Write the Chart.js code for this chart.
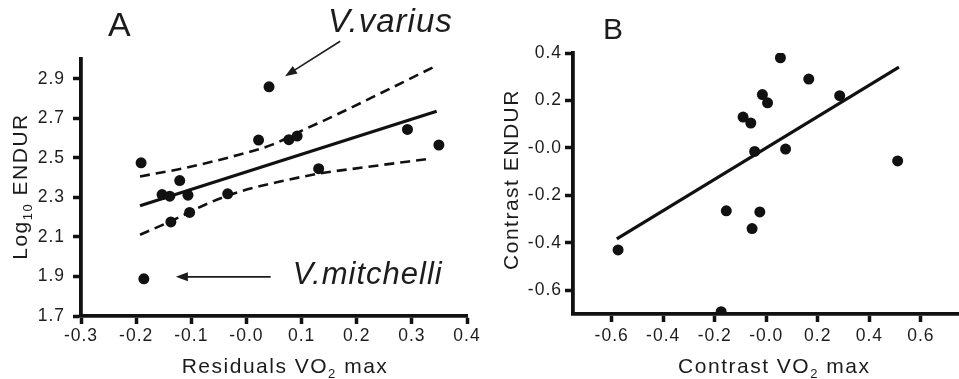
<!DOCTYPE html>
<html>
<head>
<meta charset="utf-8">
<script src="https://cdn.jsdelivr.net/npm/chart.js@4.4.0/dist/chart.umd.min.js"></script>
<style>
  html, body { margin: 0; padding: 0; background: #fff; overflow: hidden; }
  #wrap { position: relative; width: 959px; height: 379px; overflow: hidden; }
  #chartA { position: absolute; left: 0; top: 0; }
  #chartB { position: absolute; left: 480px; top: 0; }
</style>
</head>
<body>
<div id="wrap">
  <canvas id="chartA" width="480" height="379"></canvas>
  <canvas id="chartB" width="485" height="379"></canvas>
</div>
<script>
// ---- panel A : residuals ----
const aResidVO2 = [-0.191, -0.121, -0.153, -0.139, -0.106, -0.137, -0.103, -0.034, 0.022, 0.041, 0.077, 0.092, 0.131, 0.292, 0.349, -0.186];
const aLogEndur = [2.475, 2.385, 2.314, 2.306, 2.311, 2.176, 2.224, 2.318, 2.590, 2.859, 2.592, 2.610, 2.445, 2.644, 2.565, 1.888];
const aFitX = [-0.193, 0.345];
const aFitY = [2.258, 2.736];
const aUpperX = [-0.193, -0.108, -0.012, 0.048, 0.103, 0.151, 0.242, 0.345];
const aUpperY = [2.406, 2.451, 2.517, 2.568, 2.641, 2.702, 2.825, 2.967];
const aLowerX = [-0.193, -0.139, -0.066, -0.012, 0.061, 0.133, 0.211, 0.336];
const aLowerY = [2.111, 2.177, 2.274, 2.329, 2.380, 2.421, 2.451, 2.497];
const aXTicks = [-0.3, -0.2, -0.1, 0, 0.1, 0.2, 0.3, 0.4];
const aXLabels = ['-0.3', '-0.2', '-0.1', '-0.0', '0.1', '0.2', '0.3', '0.4'];
const aYTicks = [1.7, 1.9, 2.1, 2.3, 2.5, 2.7, 2.9];
const aYLabels = ['1.7', '1.9', '2.1', '2.3', '2.5', '2.7', '2.9'];

// ---- panel B : contrasts ----
const bContrastVO2 = [0.055, 0.165, 0.285, -0.015, 0.005, -0.09, -0.06, -0.045, 0.075, 0.51, -0.155, -0.025, -0.055, -0.575, -0.175];
const bContrastEndur = [0.38, 0.29, 0.22, 0.225, 0.19, 0.13, 0.105, -0.015, -0.005, -0.055, -0.265, -0.27, -0.34, -0.43, -0.69];
const bFitX = [-0.58, 0.515];
const bFitY = [-0.383, 0.340];
const bXTicks = [-0.6, -0.4, -0.2, 0, 0.2, 0.4, 0.6];
const bXLabels = ['-0.6', '-0.4', '-0.2', '-0.0', '0.2', '0.4', '0.6'];
const bYTicks = [-0.6, -0.4, -0.2, 0, 0.2, 0.4];
const bYLabels = ['-0.6', '-0.4', '-0.2', '-0.0', '0.2', '0.4'];

const ink = '#1c1c1c';
const FONT = '"Liberation Sans", Arial, sans-serif';

const toPts = (xs, ys) => xs.map((x, i) => ({ x: x, y: ys[i] }));

// text with subscripts: parts = [[text, isSub], ...]
function richWidth(ctx, parts, size) {
    let w = 0;
    parts.forEach(p => {
        ctx.font = (p[1] ? Math.round(size * 0.62) : size) + 'px ' + FONT;
        w += ctx.measureText(p[0]).width;
    });
    return w;
}
function drawRich(ctx, parts, size, x, y) {
    let cx = x;
    parts.forEach(p => {
        ctx.font = (p[1] ? Math.round(size * 0.62) : size) + 'px ' + FONT;
        ctx.fillText(p[0], cx, p[1] ? y + size * 0.24 : y);
        cx += ctx.measureText(p[0]).width;
    });
}

const decor = {
    id: 'decor',
    beforeLayout(chart) { chart.ctx.letterSpacing = '1px'; },
    beforeDraw(chart) { chart.ctx.letterSpacing = '1px'; },
    afterDraw(chart, args, opts) {
        const { ctx, chartArea: ca, scales: { x, y } } = chart;
        ctx.save();
        ctx.fillStyle = ink;
        ctx.strokeStyle = ink;
        ctx.textAlign = 'left';
        ctx.textBaseline = 'alphabetic';

        // panel letter
        ctx.letterSpacing = '0px';
        ctx.font = opts.panel.size + 'px ' + FONT;
        ctx.fillText(opts.panel.text, opts.panel.x, opts.panel.y);

        // axis titles
        ctx.letterSpacing = '1.5px';
        const xt = opts.xTitle;
        let w = richWidth(ctx, xt.parts, xt.size);
        drawRich(ctx, xt.parts, xt.size, (ca.left + ca.right) / 2 + xt.dx - w / 2, xt.y);

        const yt = opts.yTitle;
        w = richWidth(ctx, yt.parts, yt.size);
        ctx.save();
        ctx.translate(yt.x, (ca.top + ca.bottom) / 2 + yt.dy);
        ctx.rotate(-Math.PI / 2);
        drawRich(ctx, yt.parts, yt.size, -w / 2, 0);
        ctx.restore();

        // species notes with arrows
        (opts.notes || []).forEach(n => {
            const tx = x.getPixelForValue(n.to[0]), ty = y.getPixelForValue(n.to[1]);
            const fx = x.getPixelForValue(n.from[0]), fy = y.getPixelForValue(n.from[1]);
            const ang = Math.atan2(ty - fy, tx - fx);
            ctx.lineWidth = 1.6;
            ctx.beginPath();
            ctx.moveTo(fx, fy);
            ctx.lineTo(tx - 8 * Math.cos(ang), ty - 8 * Math.sin(ang));
            ctx.stroke();
            ctx.beginPath();
            ctx.moveTo(tx, ty);
            ctx.lineTo(tx - 12 * Math.cos(ang) + 4.5 * Math.sin(ang), ty - 12 * Math.sin(ang) - 4.5 * Math.cos(ang));
            ctx.lineTo(tx - 12 * Math.cos(ang) - 4.5 * Math.sin(ang), ty - 12 * Math.sin(ang) + 4.5 * Math.cos(ang));
            ctx.closePath();
            ctx.fill();

            ctx.letterSpacing = '1px';
            ctx.font = 'italic ' + n.size + 'px ' + FONT;
            ctx.fillText(n.text, x.getPixelForValue(n.at[0]), y.getPixelForValue(n.at[1]));
        });
        ctx.restore();
    }
};

function axis(min, max, tickVals, labels, isY, box, pad) {
    return {
        type: 'linear',
        min: min,
        max: max,
        afterBuildTicks: s => { s.ticks = tickVals.map(v => ({ value: v })); },
        afterFit: s => {
            if (isY) { s.width = box; s.paddingTop = 0; s.paddingBottom = 0; }
            else { s.height = box; s.paddingLeft = 0; s.paddingRight = 0; }
        },
        ticks: {
            color: ink,
            font: { family: FONT, size: 17.5 },
            padding: pad,
            maxRotation: 0,
            autoSkip: false,
            callback: (v, i) => labels[i]
        },
        grid: {
            display: true,
            drawOnChartArea: false,
            drawTicks: true,
            tickLength: 8,
            tickWidth: 3.5,
            color: '#111'
        },
        border: { display: true, width: 3.8, color: '#111' }
    };
}

function dots(xs, ys) {
    return {
        type: 'scatter',
        data: toPts(xs, ys),
        pointRadius: 5.5,
        pointHoverRadius: 5.5,
        pointBackgroundColor: '#111',
        pointBorderWidth: 0,
        showLine: false
    };
}
function line(xs, ys, dashed) {
    return {
        type: 'line',
        data: toPts(xs, ys),
        borderColor: '#111',
        borderWidth: dashed ? 2.6 : 3.2,
        borderDash: dashed ? [10, 6] : [],
        pointRadius: 0,
        fill: false,
        tension: dashed ? 0.35 : 0,
        cubicInterpolationMode: dashed ? 'monotone' : 'default'
    };
}

const baseOpts = {
    responsive: false,
    animation: false,
    events: []
};

new Chart(document.getElementById('chartA'), {
    type: 'scatter',
    data: {
        datasets: [
            dots(aResidVO2, aLogEndur),
            line(aFitX, aFitY, false),
            line(aUpperX, aUpperY, true),
            line(aLowerX, aLowerY, true)
        ]
    },
    options: Object.assign({}, baseOpts, {
        layout: { padding: { top: 59, right: 13, left: 0, bottom: 0 } },
        scales: {
            x: axis(-0.3, 0.4, aXTicks, aXLabels, false, 63, 2),
            y: axis(1.7, 3.0, aYTicks, aYLabels, true, 81, 8)
        },
        plugins: {
            legend: { display: false },
            tooltip: { enabled: false },
            decor: {
                panel: { text: 'A', size: 34, x: 108, y: 36 },
                xTitle: { parts: [['Residuals VO', false], ['2', true], [' max', false]], size: 21, dx: 11, y: 373 },
                yTitle: { parts: [['Log', false], ['10', true], [' ENDUR', false]], size: 21, x: 27, dy: -1 },
                notes: [
                    { text: 'V.varius', size: 33, at: [0.148, 3.137], from: [0.17, 3.09], to: [0.07, 2.913] },
                    { text: 'V.mitchelli', size: 31, at: [0.084, 1.862], from: [0.044, 1.898], to: [-0.128, 1.898] }
                ]
            }
        }
    }),
    plugins: [decor]
});

new Chart(document.getElementById('chartB'), {
    type: 'scatter',
    data: {
        datasets: [
            dots(bContrastVO2, bContrastEndur),
            line(bFitX, bFitY, false)
        ]
    },
    options: Object.assign({}, baseOpts, {
        layout: { padding: { top: 53, right: 0, left: 0, bottom: 0 } },
        scales: {
            x: axis(-0.75, 0.75, bXTicks, bXLabels, false, 65, 4),
            y: axis(-0.7, 0.4, bYTicks, bYLabels, true, 93, 3)
        },
        plugins: {
            legend: { display: false },
            tooltip: { enabled: false },
            decor: {
                panel: { text: 'B', size: 30, x: 123, y: 39 },
                xTitle: { parts: [['Contrast VO', false], ['2', true], [' max', false]], size: 21, dx: 8, y: 373 },
                yTitle: { parts: [['Contrast ENDUR', false]], size: 21, x: 38, dy: -4 }
            }
        }
    }),
    plugins: [decor]
});
</script>
</body>
</html>
